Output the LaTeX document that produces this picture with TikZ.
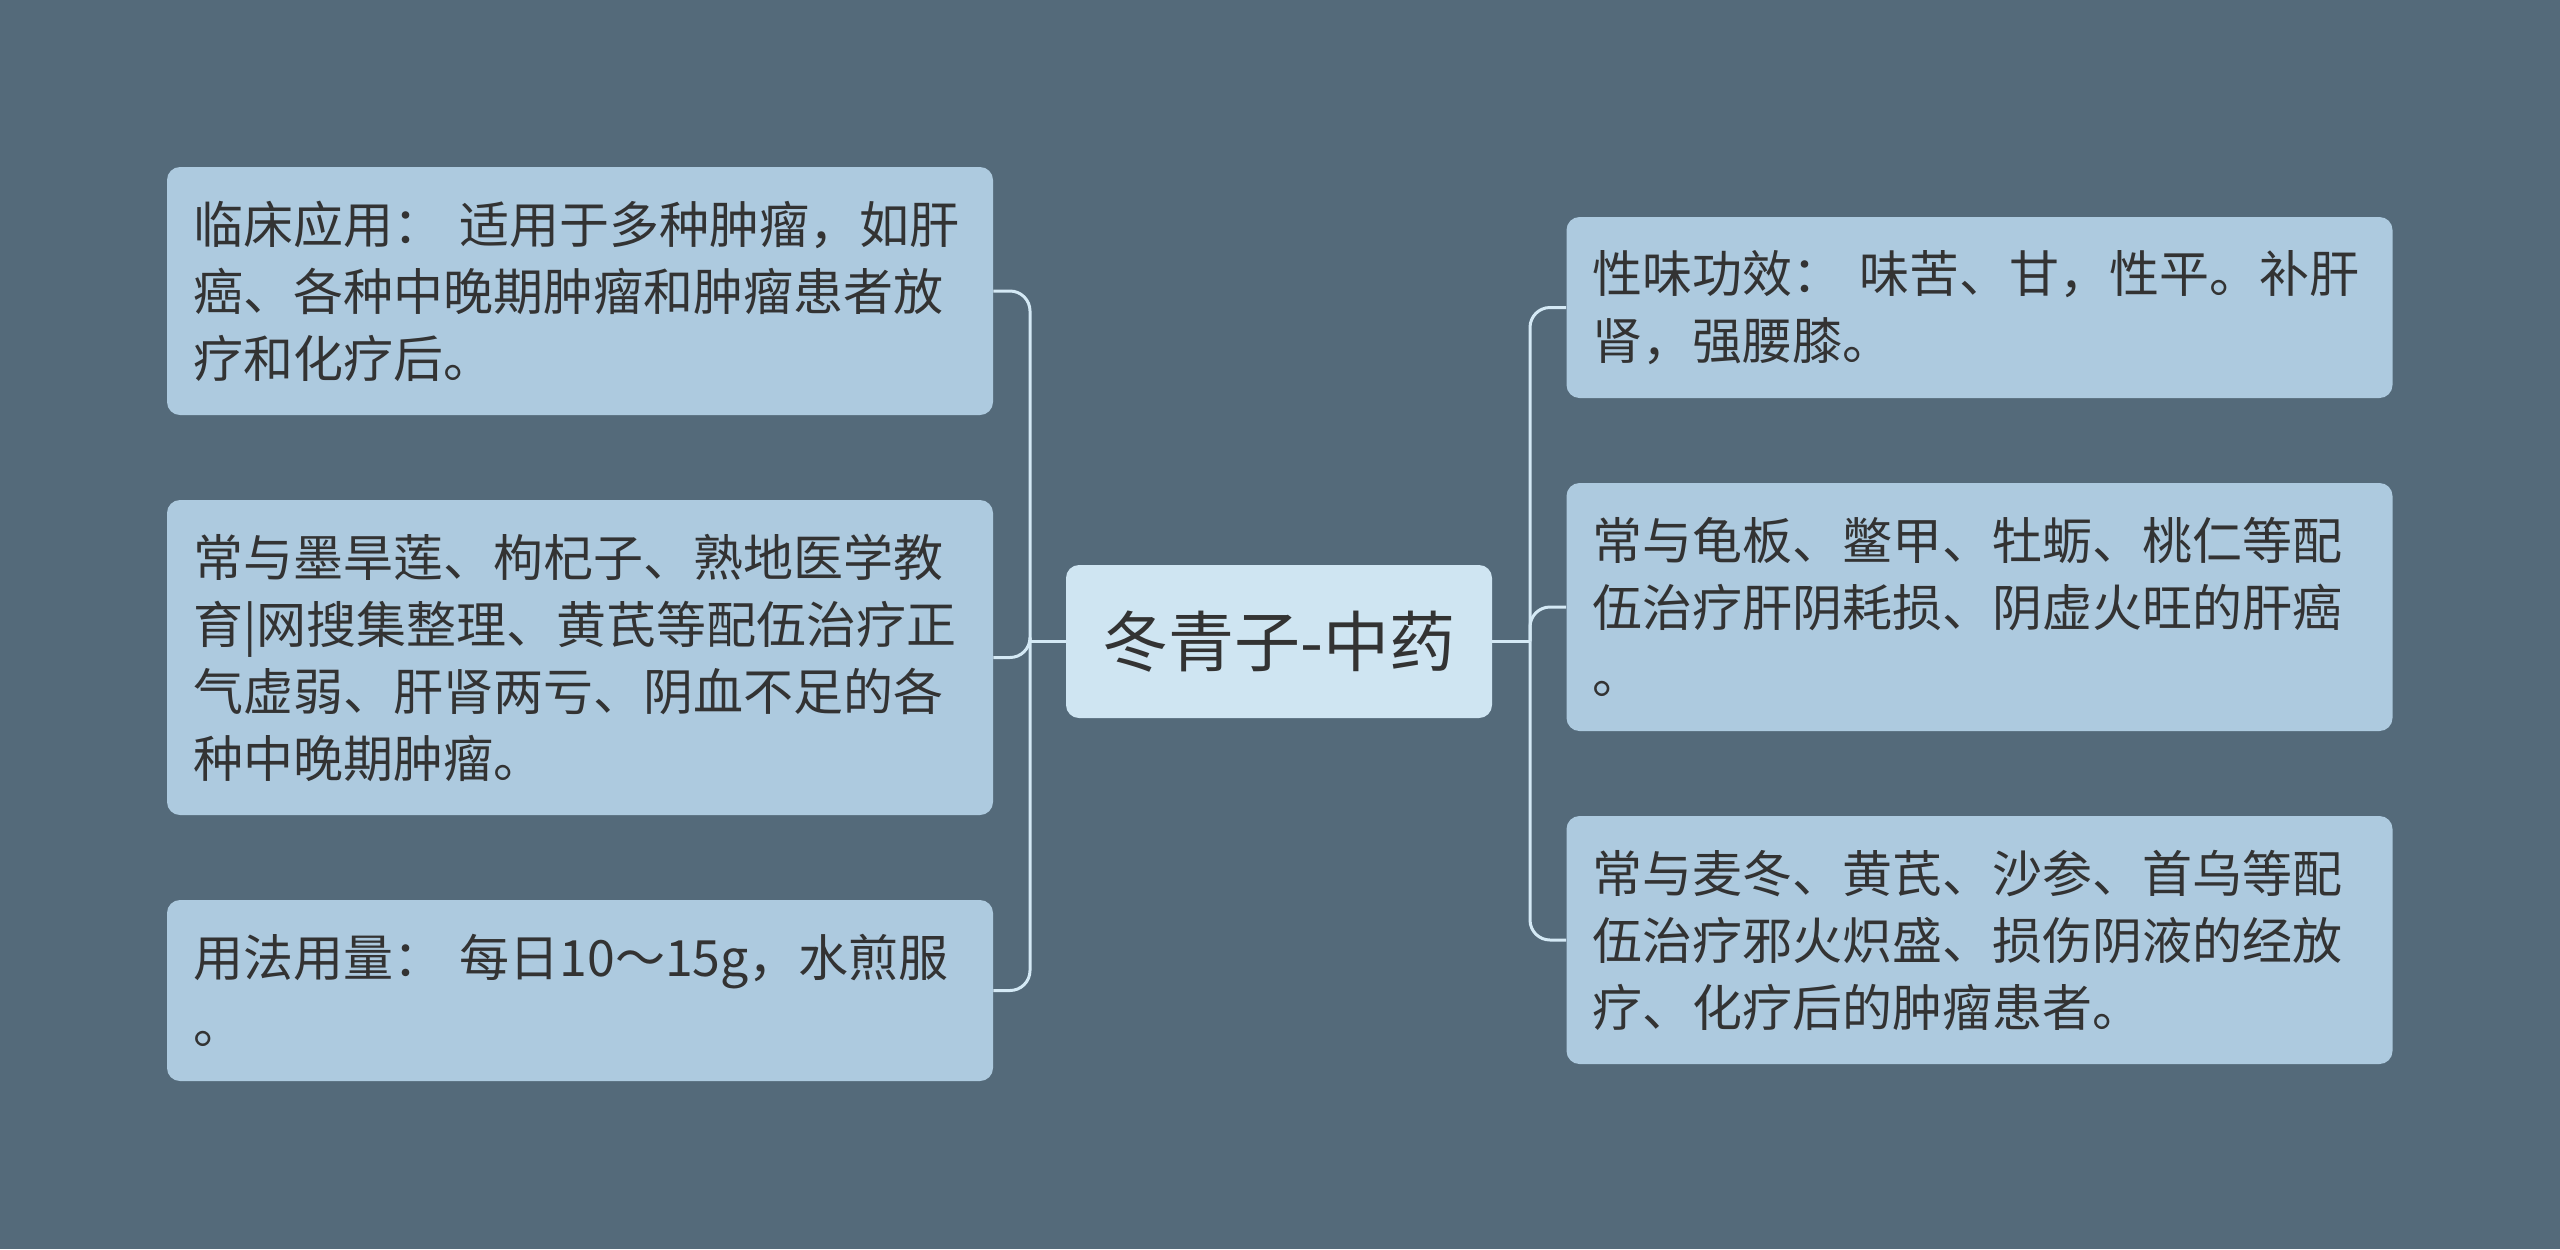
\documentclass[tikz,border=0pt]{standalone}
\usepackage{fontspec}
\setmainfont{Noto Sans CJK SC}
\definecolor{bgslate}{HTML}{546A7A}
\definecolor{leafblue}{HTML}{ADCADF}
\definecolor{topicblue}{HTML}{CFE5F2}
\definecolor{linkblue}{HTML}{D4E9F5}
\definecolor{inkgray}{HTML}{333333}

\begin{document}
\begin{tikzpicture}[x=0.5pt,y=-0.5pt,
  subtopic/.style={fill=leafblue,rounded corners=6.5pt,text=inkgray,text width=387pt,inner xsep=13pt,inner ysep=0pt,align=left,font=\fontsize{25}{33.5}\selectfont},
  topic/.style={fill=topicblue,rounded corners=6.5pt,text=inkgray,minimum width=213pt,minimum height=76.5pt,font=\fontsize{33}{40}\selectfont},
  link/.style={draw=linkblue,line width=1.5pt,rounded corners=10pt}]
  \fill[bgslate] (0,0) rectangle (2560,1249);
  %centre
  \node[topic] (dqz) at (1279,641.5) {冬青子-中药};
  \coordinate (ltrunk) at (1030,641.5);
  \coordinate (rtrunk) at (1530,641.5);
  %left
  \node[subtopic,minimum height=124pt] (clyy) at (580,291) {临床应用： 适用于多种肿瘤，如肝\\癌、各种中晚期肿瘤和肿瘤患者放\\疗和化疗后。};
  \node[subtopic,minimum height=157.5pt] (pwqx) at (580,657.5) {常与墨旱莲、枸杞子、熟地医学教\\育|网搜集整理、黄芪等配伍治疗正\\气虚弱、肝肾两亏、阴血不足的各\\种中晚期肿瘤。};
  \node[subtopic,minimum height=90.5pt] (yfyl) at (580,990.5) {用法用量： 每日10～15g，水煎服\\。};
  %right
  \node[subtopic,minimum height=90.5pt] (xwgx) at (1979.5,307.5) {性味功效： 味苦、甘，性平。补肝\\肾，强腰膝。};
  \node[subtopic,minimum height=124pt] (pwgy) at (1979.5,607) {常与龟板、鳖甲、牡蛎、桃仁等配\\伍治疗肝阴耗损、阴虚火旺的肝癌\\。};
  \node[subtopic,minimum height=124pt] (pwhy) at (1979.5,940) {常与麦冬、黄芪、沙参、首乌等配\\伍治疗邪火炽盛、损伤阴液的经放\\疗、化疗后的肿瘤患者。};
  %links
  \draw[link] (dqz.west) -- (ltrunk);
  \draw[link] (ltrunk) |- (clyy.east);
  \draw[link] (ltrunk) |- (pwqx.east);
  \draw[link] (ltrunk) |- (yfyl.east);
  \draw[link] (dqz.east) -- (rtrunk);
  \draw[link] (rtrunk) |- (xwgx.west);
  \draw[link] (rtrunk) |- (pwgy.west);
  \draw[link] (rtrunk) |- (pwhy.west);
\end{tikzpicture}
\end{document}
